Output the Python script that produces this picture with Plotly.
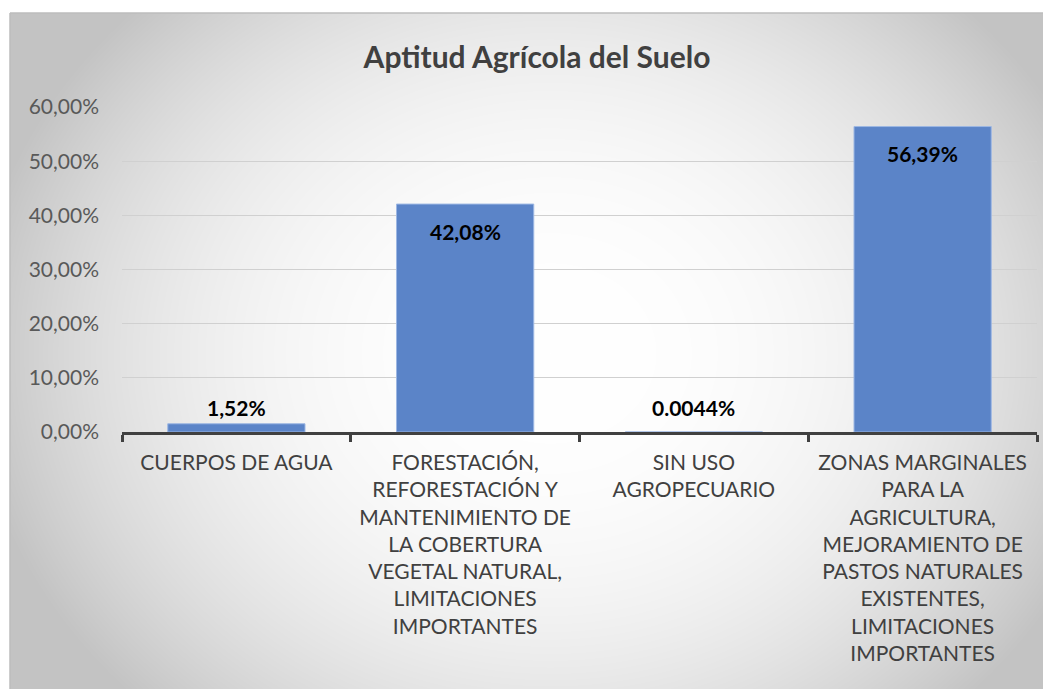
import base64, struct, zlib
import numpy as np
import plotly.graph_objects as go

categories = [
    "CUERPOS DE AGUA",
    "FORESTACIÓN,<br>REFORESTACIÓN Y<br>MANTENIMIENTO DE<br>LA COBERTURA<br>VEGETAL NATURAL,<br>LIMITACIONES<br>IMPORTANTES",
    "SIN USO<br>AGROPECUARIO",
    "ZONAS MARGINALES<br>PARA LA<br>AGRICULTURA,<br>MEJORAMIENTO DE<br>PASTOS NATURALES<br>EXISTENTES,<br>LIMITACIONES<br>IMPORTANTES",
]
values = [0.0152, 0.4208, 0.000044, 0.5639]
value_labels = ["1,52%", "42,08%", "0.0044%", "56,39%"]

title = "Aptitud Agrícola del Suelo"
FONT = "Lato"

# The page body has an 8px margin; build the figure in page pixels minus that offset.
OFF = 8
FW, FH = 1051 - OFF, 689 - OFF

# ---- radial gradient background as PNG ----
W, H = 1041, 676
yy, xx = np.mgrid[0:H, 0:W].astype(float)
cx, cy = 540.0, 340.0
d = np.sqrt(((xx - cx) / 540.0) ** 2 + ((yy - cy) / 460.0) ** 2)
v = 255 - 50 * np.clip(d, 0, 1.3) ** 2.4
v = np.clip(v, 195, 255).astype(np.uint8)
rgb = np.stack([v, v, v], axis=-1)
raw = b"".join(b"\x00" + rgb[i].tobytes() for i in range(H))

def chunk(t, data):
    c = struct.pack(">I", len(data)) + t + data
    return c + struct.pack(">I", zlib.crc32(t + data) & 0xFFFFFFFF)

png = b"\x89PNG\r\n\x1a\n" + chunk(b"IHDR", struct.pack(">IIBBBBB", W, H, 8, 2, 0, 0, 0)) \
    + chunk(b"IDAT", zlib.compress(raw, 9)) + chunk(b"IEND", b"")
img_uri = "data:image/png;base64," + base64.b64encode(png).decode()

# plot area geometry (figure pixels)
L, R, T, B = 122 - OFF, 1037 - OFF, 107 - OFF, 432 - OFF
PW, PH = R - L, B - T
FX0, FY0 = 10 - OFF, 13 - OFF  # chart frame corner

fig = go.Figure()
fig.add_trace(go.Bar(
    x=categories, y=values,
    marker=dict(color="#5b84c8", line=dict(color="#9db7e3", width=1)),
    hoverinfo="skip",
))

annotations = []
for c, val, lab in zip(categories, values, value_labels):
    inside = val > 0.1
    shift = -27 if inside else (16 if val > 0.005 else 24)
    annotations.append(dict(
        x=c, y=val, xref="x", yref="y", text="<b>" + lab + "</b>", showarrow=False,
        yanchor="middle", yshift=shift,
        font=dict(family=FONT, size=21, color="#000000"),
    ))

fig.update_layout(
    width=FW, height=FH,
    margin=dict(l=L, r=FW - R, t=T, b=FH - B),
    paper_bgcolor="white", plot_bgcolor="rgba(0,0,0,0)",
    separators=",.",
    bargap=0.4,
    showlegend=False,
    title=dict(text="<b>" + title + "</b>", x=(537 - OFF) / FW, xref="container", xanchor="center",
               y=1 - (57 - OFF) / FH, yref="container", yanchor="middle",
               font=dict(family=FONT, size=30, color="#404040")),
    font=dict(family=FONT, size=21, color="#595959"),
    annotations=annotations,
    images=[dict(source=img_uri, xref="paper", yref="paper",
                 x=(FX0 - L) / PW, y=(B - FY0) / PH, sizex=W / PW, sizey=H / PH,
                 xanchor="left", yanchor="top", sizing="stretch", layer="below")],
    shapes=[
        dict(type="line", xref="paper", yref="paper", x0=(FX0 - L) / PW, x1=(FW - L) / PW,
             y0=(B - FY0) / PH, y1=(B - FY0) / PH, line=dict(color="#bdbdbd", width=1.5)),
        dict(type="line", xref="paper", yref="paper", x0=(FX0 - L) / PW, x1=(FX0 - L) / PW,
             y0=(B - FY0) / PH, y1=(B - FH) / PH, line=dict(color="#bdbdbd", width=1.5)),
    ],
)
fig.update_xaxes(
    showline=True, linecolor="#404040", linewidth=2.5,
    ticks="outside", tickson="boundaries", ticklen=7, tickwidth=2.5, tickcolor="#404040",
    showgrid=False, ticklabelstandoff=10,
    tickfont=dict(family=FONT, size=21, color="#404040"),
)
fig.update_yaxes(
    range=[0, 0.6], dtick=0.1, tickformat=".2%",
    showgrid=True, gridcolor="#d0d0d0", gridwidth=1, zeroline=False, showline=False,
    ticks="", ticklabelstandoff=22,
    tickfont=dict(family=FONT, size=21, color="#595959"),
)

fig.write_html("out.html")
